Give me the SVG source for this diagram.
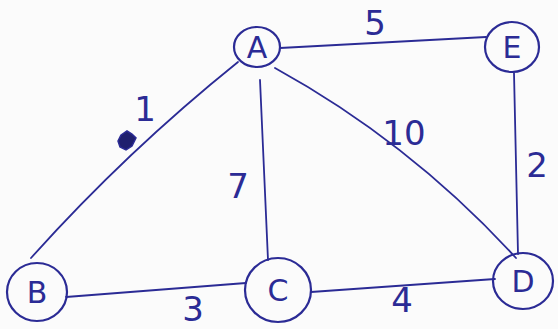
<svg xmlns="http://www.w3.org/2000/svg" width="558" height="329" viewBox="0 0 558 329">
<style>
.n{fill:none;stroke:#2b2b95;stroke-width:2.2}
.e{fill:none;stroke:#2b2b95;stroke-width:1.8;stroke-linecap:round}
.t{font-family:"DejaVu Sans","Liberation Sans",sans-serif;fill:#2b2b95;text-anchor:middle;font-weight:normal}
.nl{font-size:30px}
.el{font-size:34px}
</style>
<rect width="558" height="329" fill="#fbfbfb"/>
<g id="connectors">
<line class="e" x1="280" y1="48" x2="486" y2="37"/>
<path class="e" d="M238,62 Q126,152 31,258"/>
<line class="e" x1="260" y1="80" x2="268" y2="260"/>
<path class="e" d="M275,68 Q411,143 516,258"/>
<line class="e" x1="514" y1="73" x2="518" y2="254"/>
<line class="e" x1="66" y1="297" x2="246" y2="283"/>
<line class="e" x1="311" y1="292" x2="495" y2="279"/>
</g>
<g id="labels">
<text class="t el" x="375" y="35">5</text>
<text class="t el" x="145" y="121">1</text>
<path d="M121,135 L127,131 L132,134 L136,138 L132,146 L126,150 L120,147 L118,141 Z" fill="#1f1f6e" stroke="#2b2b95" stroke-width="1.5"/>
<text class="t el" x="404" y="145">10</text>
<text class="t el" x="537" y="177">2</text>
<text class="t el" x="238" y="198">7</text>
<text class="t el" x="193" y="321">3</text>
<text class="t el" x="402" y="312">4</text>
</g>
<g id="node-A"><ellipse class="n" cx="257" cy="47" rx="23" ry="20"/><text class="t nl" x="257" y="58">A</text></g>
<g id="node-E"><ellipse class="n" cx="512" cy="47" rx="27" ry="25"/><text class="t nl" x="512" y="58">E</text></g>
<g id="node-B"><ellipse class="n" cx="37" cy="292" rx="30" ry="29"/><text class="t nl" x="37" y="303">B</text></g>
<g id="node-C"><ellipse class="n" cx="278" cy="290" rx="33" ry="32"/><text class="t nl" x="278" y="301">C</text></g>
<g id="node-D"><ellipse class="n" cx="523" cy="281" rx="30" ry="28"/><text class="t nl" x="523" y="292">D</text></g>
</svg>
